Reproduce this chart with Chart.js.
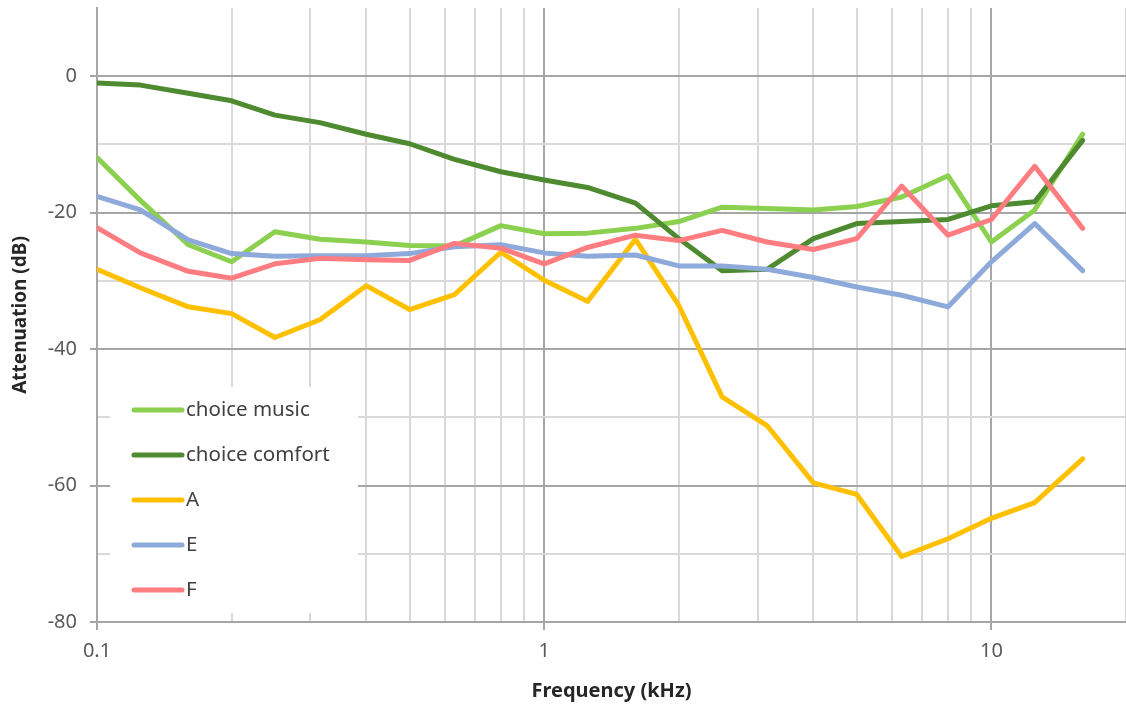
<!DOCTYPE html>
<html>
<head>
<meta charset="utf-8">
<script src="https://cdn.jsdelivr.net/npm/chart.js@4/dist/chart.umd.min.js"></script>
<style>
  html, body { margin: 0; padding: 0; background: #fff; }
  #wrap { width: 1126px; height: 707px; position: relative; }
</style>
</head>
<body>
<div id="wrap"><canvas id="chart"></canvas></div>
<script>
// third-octave band centres, kHz
const freqs = [0.1, 0.125, 0.16, 0.2, 0.25, 0.315, 0.4, 0.5, 0.63, 0.8, 1, 1.25, 1.6, 2, 2.5, 3.15, 4, 5, 6.3, 8, 10, 12.5, 16];

// attenuation per band, dB
const choiceMusic   = [-11.9, -18.2, -24.7, -27.2, -22.8, -23.9, -24.3, -24.8, -24.9, -21.9, -23.1, -23.0, -22.3, -21.3, -19.2, -19.4, -19.6, -19.1, -17.7, -14.6, -24.3, -19.6, -8.5];
const choiceComfort = [-1.0, -1.3, -2.5, -3.6, -5.7, -6.8, -8.5, -9.9, -12.2, -14.0, -15.2, -16.3, -18.6, -23.8, -28.5, -28.3, -23.8, -21.6, -21.3, -21.0, -19.0, -18.4, -9.4];
const seriesA       = [-28.3, -31.0, -33.8, -34.8, -38.3, -35.7, -30.7, -34.2, -32.0, -25.8, -29.9, -33.0, -23.9, -33.6, -47.0, -51.2, -59.6, -61.3, -70.4, -67.8, -64.8, -62.5, -56.1];
const seriesE       = [-17.6, -19.6, -24.0, -26.0, -26.4, -26.3, -26.3, -26.0, -25.0, -24.7, -25.9, -26.4, -26.2, -27.8, -27.8, -28.3, -29.5, -30.9, -32.1, -33.8, -27.2, -21.6, -28.5];
const seriesF       = [-22.2, -25.9, -28.6, -29.6, -27.5, -26.7, -26.9, -27.0, -24.5, -25.2, -27.5, -25.1, -23.3, -24.1, -22.6, -24.3, -25.4, -23.8, -16.1, -23.3, -21.0, -13.2, -22.3];

const seriesNames = ['choice music', 'choice comfort', 'A', 'E', 'F'];
const seriesData  = [choiceMusic, choiceComfort, seriesA, seriesE, seriesF];
const colors      = ['#8bd04f', '#4e8a2f', '#ffc000', '#8eaadb', '#ff7c80'];

const xLabels = [0.1, 1, 10];
const yLabels = [0, -20, -40, -60, -80];

const FONT = "'Noto Sans', 'Open Sans', sans-serif";

const datasets = seriesNames.map((name, i) => ({
  label: name,
  data: freqs.map((f, j) => ({ x: f, y: seriesData[i][j] })),
  borderColor: colors[i],
  backgroundColor: colors[i],
  borderWidth: 5,
  pointRadius: 0,
  tension: 0,
  borderJoinStyle: 'round',
  borderCapStyle: 'round',
  order: seriesNames.length - i   // later series on top
}));

// legend drawn as a white box inside the plot, over the grid
const boxLegend = {
  id: 'boxLegend',
  beforeDatasetsDraw(chart, args, opts) {
    const ctx = chart.ctx;
    ctx.save();
    ctx.fillStyle = '#fff';
    ctx.fillRect(opts.x, opts.y, opts.w, opts.h);
    ctx.font = opts.fontSize + 'px ' + FONT;
    ctx.textBaseline = 'middle';
    ctx.lineCap = 'round';
    chart.data.datasets.forEach((ds, i) => {
      const y = opts.firstRow + i * opts.rowGap;
      ctx.strokeStyle = ds.borderColor;
      ctx.lineWidth = 5;
      ctx.beginPath();
      ctx.moveTo(opts.x + 24, y);
      ctx.lineTo(opts.x + 72, y);
      ctx.stroke();
      ctx.fillStyle = '#404040';
      ctx.fillText(ds.label, opts.x + 76, y);
    });
    ctx.restore();
  }
};

new Chart(document.getElementById('chart'), {
  type: 'line',
  data: { datasets },
  plugins: [boxLegend],
  options: {
    responsive: true,
    maintainAspectRatio: false,
    animation: false,
    layout: { padding: { top: 8, right: 0, left: 0, bottom: 0 } },
    plugins: {
      legend: { display: false },
      tooltip: { enabled: false },
      boxLegend: { x: 110, y: 387, w: 248, h: 226, firstRow: 410, rowGap: 45, fontSize: 20.5 }
    },
    scales: {
      x: {
        type: 'logarithmic',
        min: 0.1,
        max: 20,
        afterBuildTicks(scale) {
          const t = [];
          for (let d = 0.1; d < 20; d *= 10) {
            for (let k = 1; k <= 9; k++) {
              const v = +(d * k).toPrecision(3);
              if (v <= 20) t.push({ value: v });
            }
          }
          scale.ticks = t;
        },
        afterFit(scale) {
          scale.height = 85;
          scale.paddingLeft = 0;
          scale.paddingRight = 0;
        },
        ticks: {
          autoSkip: false,
          maxRotation: 0,
          padding: 9,
          color: '#595959',
          font: { family: FONT, size: 20 },
          callback: v => xLabels.includes(v) ? String(v) : ''
        },
        grid: {
          tickLength: 8,
          color: c => xLabels.includes(c.tick && c.tick.value) ? '#a6a6a6' : '#d9d9d9',
          tickColor: c => xLabels.includes(c.tick && c.tick.value) ? '#a6a6a6' : 'rgba(0,0,0,0)',
          lineWidth: 2
        },
        border: { color: '#a6a6a6', width: 2 },
        title: {
          display: true,
          text: 'Frequency (kHz)',
          color: '#262626',
          font: { family: FONT, size: 20, weight: 'bold' },
          padding: { top: 4, bottom: 4 }
        }
      },
      y: {
        min: -80,
        max: 10,
        afterFit(scale) {
          scale.width = 97;
          scale.paddingTop = 0;
          scale.paddingBottom = 0;
        },
        ticks: {
          stepSize: 10,
          padding: 13,
          color: '#595959',
          font: { family: FONT, size: 20 },
          callback: v => yLabels.includes(v) ? String(v) : ''
        },
        grid: {
          tickLength: 7,
          color: c => {
            const v = c.tick && c.tick.value;
            if (v === 10) return 'rgba(0,0,0,0)';
            return yLabels.includes(v) ? '#a6a6a6' : '#d9d9d9';
          },
          tickColor: c => yLabels.includes(c.tick && c.tick.value) ? '#a6a6a6' : 'rgba(0,0,0,0)',
          lineWidth: 2
        },
        border: { color: '#a6a6a6', width: 2 },
        title: {
          display: true,
          text: 'Attenuation (dB)',
          color: '#262626',
          font: { family: FONT, size: 19, weight: 'bold' },
          padding: { top: 9, bottom: 0 }
        }
      }
    }
  }
});
</script>
</body>
</html>
